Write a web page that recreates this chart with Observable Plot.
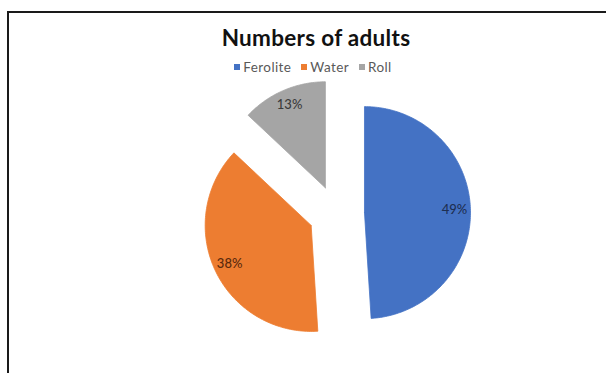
<!DOCTYPE html>
<html><head><meta charset="utf-8">
<script src="https://cdn.jsdelivr.net/npm/d3@7"></script>
<script src="https://cdn.jsdelivr.net/npm/@observablehq/plot@0.6"></script>
<style>
body{margin:0;background:#fff;}
#fig{position:relative;width:606px;height:373px;overflow:hidden;background:#fff;font-family:Lato,"Open Sans",sans-serif;}
#chart{position:absolute;left:0;top:0;}
#frame{position:absolute;left:7px;top:11px;right:-10px;bottom:-10px;border-left:2px solid #1a1a1a;border-top:2px solid #1a1a1a;pointer-events:none;}
#title{position:absolute;left:0;width:632px;top:25px;text-align:center;font-weight:bold;font-size:22.5px;letter-spacing:0.3px;line-height:26px;color:#111;}
#legend{position:absolute;left:0;width:626px;top:59px;display:flex;justify-content:center;align-items:center;font-size:13.5px;letter-spacing:0.4px;line-height:16px;color:#595959;}
#legend .item{display:flex;align-items:center;margin:0 5px;}
#legend .sw{width:6px;height:6px;margin-right:3px;}
</style></head>
<body>
<div id="fig"><div id="chart"></div><div id="frame"></div><div id="title">Numbers of adults</div><div id="legend"></div></div>
<script>
const categories = ["Ferolite", "Water", "Roll"];
const values = [49, 38, 13];
const labels = ["49%", "38%", "13%"];
const colors = ["#4472C4", "#ED7D31", "#A5A5A5"];
const labelColors = ["#1e2f52", "#5a2a0d", "#3b3b3b"];

// layout (pixels)
const W = 606, H = 373, cx = 336, cy = 213, R = 106, explode = 28 / R, labelFrac = 0.85;

const arcs = d3.pie().sort(null).startAngle(0).endAngle(2 * Math.PI)(values);
const pts = [];
const labelPts = [];
arcs.forEach((a, i) => {
  const mid = (a.startAngle + a.endAngle) / 2;
  const ox = explode * Math.sin(mid), oy = -explode * Math.cos(mid);
  pts.push({cat: categories[i], x: ox, y: oy});
  const n = Math.max(2, Math.ceil((a.endAngle - a.startAngle) / (Math.PI / 180)));
  for (let k = 0; k <= n; k++) {
    const t = a.startAngle + (a.endAngle - a.startAngle) * k / n;
    pts.push({cat: categories[i], x: ox + Math.sin(t), y: oy - Math.cos(t)});
  }
  pts.push({cat: categories[i], x: ox, y: oy});
  labelPts.push({cat: categories[i], label: labels[i], color: labelColors[i],
    x: ox + labelFrac * Math.sin(mid), y: oy - labelFrac * Math.cos(mid)});
});

const chart = Plot.plot({
  width: W, height: H, margin: 0,
  x: {domain: [-cx / R, (W - cx) / R], range: [0, W], axis: null},
  y: {domain: [-cy / R, (H - cy) / R], range: [0, H], axis: null},
  color: {domain: categories, range: colors},
  style: {background: "transparent", fontFamily: "Lato, 'Open Sans', sans-serif"},
  marks: [
    Plot.line(pts, {x: "x", y: "y", z: "cat", fill: "cat", stroke: "cat", strokeWidth: 0.8, curve: "linear"}),
    Plot.text(labelPts, {x: "x", y: "y", text: "label", fill: "color", fontSize: 13, fontWeight: 500})
  ]
});
document.getElementById("chart").appendChild(chart);

const leg = document.getElementById("legend");
categories.forEach((c, i) => {
  const it = document.createElement("div"); it.className = "item";
  const sw = document.createElement("span"); sw.className = "sw"; sw.style.background = colors[i];
  const tx = document.createElement("span"); tx.textContent = c;
  it.appendChild(sw); it.appendChild(tx); leg.appendChild(it);
});
</script>
</body></html>
